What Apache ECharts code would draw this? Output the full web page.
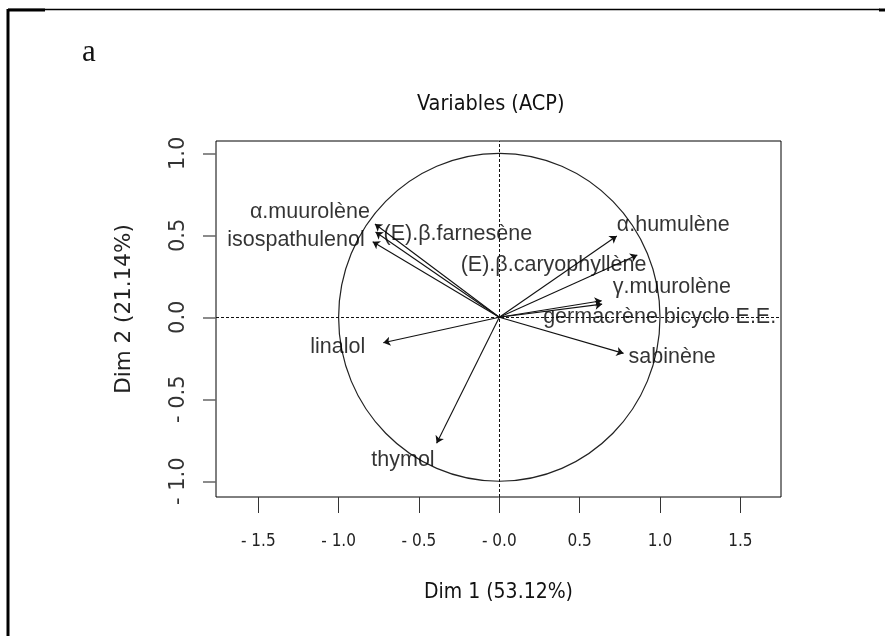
<!DOCTYPE html>
<html>
<head>
<meta charset="utf-8">
<script src="https://cdn.jsdelivr.net/npm/echarts@6/dist/echarts.min.js"></script>
<style>
  html, body { margin: 0; padding: 0; background: #fff; }
  #chart { width: 885px; height: 636px; }
</style>
</head>
<body>
<div id="chart"></div>
<script>
// PCA correlation circle: variable coordinates on the first two dimensions
const variableNames = [
  'α.muurolène', 'isospathulenol', '(E).β.farnesène', 'linalol', 'thymol',
  'α.humulène', '(E).β.caryophyllène', 'γ.muurolène', 'germacrène bicyclo E.E.', 'sabinène'
];
const dim1 = [-0.774, -0.788, -0.770, -0.722, -0.390, 0.731, 0.859, 0.637, 0.640, 0.773];
const dim2 = [ 0.569,  0.461,  0.520, -0.155, -0.768, 0.496, 0.380, 0.101, 0.080, -0.220];

const xTickValues = [-1.5, -1, -0.5, 0, 0.5, 1, 1.5];
const xTickLabels = ['- 1.5', '- 1.0', '- 0.5', '- 0.0', '0.5', '1.0', '1.5'];
const yTickValues = [-1, -0.5, 0, 0.5, 1];
const yTickLabels = ['- 1.0', '- 0.5', '0.0', '0.5', '1.0'];

// where each variable name sits relative to its arrow tip
const labelPlacement = {
  'α.muurolène':             { align: 'right', offset: [-5, -12] },
  'isospathulenol':          { align: 'right', offset: [-8, -2] },
  '(E).β.farnesène':         { align: 'left',  offset: [8, 2] },
  'linalol':                 { align: 'right', offset: [-18, 4] },
  'thymol':                  { align: 'right', offset: [-2, 17] },
  'α.humulène':              { align: 'left',  offset: [0, -11] },
  '(E).β.caryophyllène':     { align: 'right', offset: [9, 10] },
  'γ.muurolène':             { align: 'left',  offset: [11, -14] },
  'germacrène bicyclo E.E.': { align: 'left',  offset: [-59, 13] },
  'sabinène':                { align: 'left',  offset: [5, 4] }
};

const narrowFont = "'DejaVu Sans Condensed', 'Liberation Sans Narrow', 'Liberation Sans', sans-serif";
const plainFont = "'Liberation Sans', Arial, sans-serif";
const wideFont = "'DejaVu Sans', Verdana, sans-serif";

function lookup(values, labels, v) {
  for (let i = 0; i < values.length; i++) {
    if (Math.abs(values[i] - v) < 1e-9) return labels[i];
  }
  return '';
}

const arrows = variableNames.map((n, i) => ({ name: n, coords: [[0, 0], [dim1[i], dim2[i]]] }));
const tips = variableNames.map((n, i) => ({
  name: n,
  value: [dim1[i], dim2[i]],
  label: {
    align: labelPlacement[n].align,
    offset: labelPlacement[n].offset
  }
}));

const chart = echarts.init(document.getElementById('chart'), null, { renderer: 'canvas' });

chart.setOption({
  animation: false,
  backgroundColor: '#fff',
  title: {
    text: 'Variables (ACP)',
    left: 412,
    top: 88,
    textStyle: { fontSize: 21.5, fontWeight: 'normal', color: '#111', fontFamily: narrowFont }
  },
  grid: {
    left: 216, right: 104, top: 141, bottom: 139,
    show: true, borderColor: '#000', borderWidth: 1,
    containLabel: false,
    outerBoundsMode: 'none'
  },
  xAxis: {
    type: 'value',
    min: -1.763, max: 1.753,
    axisLine: { show: false, onZero: false },
    splitLine: { show: false },
    axisTick: { show: true, customValues: xTickValues, length: 16, lineStyle: { color: '#333', width: 1 } },
    axisLabel: {
      customValues: xTickValues,
      formatter: v => lookup(xTickValues, xTickLabels, v),
      margin: 36, fontSize: 17, color: '#222', fontFamily: narrowFont
    },
    name: 'Dim 1 (53.12%)',
    nameLocation: 'middle',
    nameGap: 85,
    nameTextStyle: { fontSize: 21, color: '#111', fontFamily: narrowFont }
  },
  yAxis: {
    type: 'value',
    min: -1.096, max: 1.075,
    axisLine: { show: false, onZero: false },
    splitLine: { show: false },
    axisTick: { show: true, customValues: yTickValues, length: 13, lineStyle: { color: '#666', width: 1.5 } },
    axisLabel: {
      customValues: yTickValues,
      formatter: v => lookup(yTickValues, yTickLabels, v),
      rotate: 90, margin: 27, fontSize: 21, color: '#333', fontFamily: wideFont
    },
    name: 'Dim 2 (21.14%)',
    nameLocation: 'middle',
    nameGap: 81,
    nameRotate: 90,
    nameTextStyle: { fontSize: 21.5, color: '#222', fontFamily: wideFont, padding: [0, 0, 0, 20] }
  },
  graphic: [
    { type: 'line', shape: { x1: 8, y1: 9, x2: 8, y2: 636 }, style: { stroke: '#000', lineWidth: 3 } },
    { type: 'line', shape: { x1: 8, y1: 9.5, x2: 880, y2: 9.5 }, style: { stroke: '#000', lineWidth: 1.5 } },
    { type: 'line', shape: { x1: 8, y1: 10, x2: 45, y2: 10 }, style: { stroke: '#000', lineWidth: 3 } },
    { type: 'line', shape: { x1: 879, y1: 10, x2: 885, y2: 10 }, style: { stroke: '#000', lineWidth: 3 } },
    {
      type: 'text', left: 82, top: 37,
      style: { text: 'a', fontSize: 31, fontFamily: "'Liberation Serif', 'Times New Roman', serif", fill: '#111' }
    }
  ],
  series: [
    {
      // unit correlation circle, drawn through the axis scales
      type: 'custom',
      silent: true,
      data: [[0, 0]],
      renderItem: function (params, api) {
        const c = api.coord([0, 0]);
        const ex = api.coord([1, 0]);
        const ey = api.coord([0, 1]);
        return {
          type: 'ellipse',
          shape: { cx: c[0], cy: c[1], rx: ex[0] - c[0], ry: c[1] - ey[1] },
          style: { fill: 'none', stroke: '#222', lineWidth: 1.2 }
        };
      },
      z: 1
    },
    {
      type: 'lines',
      coordinateSystem: 'cartesian2d',
      silent: true,
      data: arrows,
      symbol: ['none', 'arrow'],
      symbolSize: 7,
      lineStyle: { color: '#111', width: 1.1, opacity: 1, curveness: 0 },
      z: 3
    },
    {
      type: 'scatter',
      silent: true,
      symbolSize: 1,
      itemStyle: { color: 'rgba(0,0,0,0)' },
      data: tips,
      label: {
        show: true,
        position: 'inside',
        formatter: p => p.name,
        verticalAlign: 'middle',
        fontSize: 21.5,
        color: '#000',
        fontFamily: plainFont
      },
      markLine: {
        silent: true,
        symbol: 'none',
        label: { show: false },
        lineStyle: { color: '#111', type: [3, 2], width: 1 },
        data: [{ xAxis: 0 }, { yAxis: 0 }]
      },
      z: 4
    }
  ]
});
</script>
</body>
</html>
